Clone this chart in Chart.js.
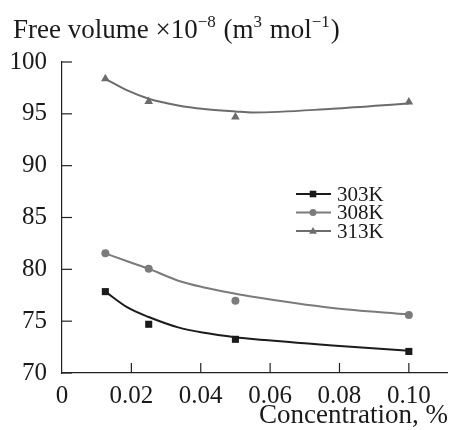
<!DOCTYPE html>
<html lang="en">
<head>
<meta charset="UTF-8">
<script src="https://cdn.jsdelivr.net/npm/chart.js@4.4.0/dist/chart.umd.min.js"></script>
<title>Free volume</title>
<style>
  html, body { margin: 0; padding: 0; background: #fff; }
  #wrap { width: 452px; height: 430px; }
</style>
</head>
<body>
<div id="wrap"><canvas id="chart"></canvas></div>
<script>
// measured points
var concentration = [0.0125, 0.025, 0.05, 0.1];
var fv303 = [77.85, 74.7, 73.25, 72.08];
var fv308 = [81.54, 80.06, 76.97, 75.6];
var fv313 = [98.38, 96.19, 94.7, 96.13];

// trend curves
var fitX = [0.0125, 0.019, 0.025, 0.0335, 0.041, 0.05, 0.055, 0.078, 0.1];
var fit303 = [77.85, 76.3, 75.4, 74.4, 73.88, 73.45, 73.28, 72.66, 72.15];
var fit308 = [81.54, 80.75, 80.06, 78.9, 78.25, 77.65, 77.35, 76.27, 75.65];
var fit313 = [98.38, 97.23, 96.45, 95.8, 95.46, 95.23, 95.13, 95.49, 96.0];

var series = ['303K', '308K', '313K'];
var xTickValues = [0, 0.02, 0.04, 0.06, 0.08, 0.10];
var yTickValues = [70, 75, 80, 85, 90, 95, 100];

var colors = ['#1b1b1b', '#7b7b7b', '#6c6c6c'];
var markers = ['rect', 'circle', 'triangle'];
var FONT = '"Liberation Serif", "Times New Roman", serif';

function pts(xs, ys) {
    return xs.map(function (x, i) { return { x: x, y: ys[i] }; });
}

var fits = [fit303, fit308, fit313];
var meas = [fv303, fv308, fv313];
var datasets = [];
fits.forEach(function (f, i) {
    datasets.push({
        label: series[i] + ' fit',
        data: pts(fitX, f),
        showLine: true,
        borderColor: colors[i],
        borderWidth: 2,
        pointRadius: 0,
        tension: 0.4,
        cubicInterpolationMode: 'monotone'
    });
});
meas.forEach(function (m, i) {
    datasets.push({
        label: series[i],
        data: pts(concentration, m),
        showLine: false,
        pointStyle: markers[i],
        pointRadius: i == 1 ? 4 : 5,
        backgroundColor: colors[i],
        borderColor: colors[i],
        borderWidth: 0
    });
});

function marker(ctx, style, x, y, r) {
    ctx.beginPath();
    if (style == 'rect') {
        ctx.rect(x - r, y - r, 2 * r, 2 * r);
    } else if (style == 'circle') {
        ctx.arc(x, y, r, 0, Math.PI * 2);
    } else {
        ctx.moveTo(x, y - r * 1.2);
        ctx.lineTo(x + r * 1.2, y + r * 0.8);
        ctx.lineTo(x - r * 1.2, y + r * 0.8);
        ctx.closePath();
    }
    ctx.fill();
}

var decor = {
    id: 'decor',
    afterDraw: function (chart) {
        var ctx = chart.ctx;
        var xs = chart.scales.x, ys = chart.scales.y;
        var a = chart.chartArea;
        ctx.save();
        ctx.strokeStyle = '#222';
        ctx.lineWidth = 1.2;
        // inward ticks
        yTickValues.forEach(function (v) {
            var y = ys.getPixelForValue(v);
            ctx.beginPath(); ctx.moveTo(a.left, y); ctx.lineTo(a.left + 10, y); ctx.stroke();
        });
        xTickValues.forEach(function (v) {
            if (v == 0) return;
            var x = xs.getPixelForValue(v);
            ctx.beginPath(); ctx.moveTo(x, a.bottom); ctx.lineTo(x, a.bottom - 10); ctx.stroke();
        });

        // y title with superscripts
        ctx.fillStyle = '#1a1a1a';
        ctx.textBaseline = 'alphabetic';
        ctx.textAlign = 'left';
        var big = '27px ' + FONT, small = '17px ' + FONT;
        var parts = [['Free volume \u00d710', 0], ['\u22128', 1], [' (m', 0], ['3', 1], [' mol', 0], ['\u22121', 1], [')', 0]];
        var x = 13, base = 38;
        parts.forEach(function (p) {
            ctx.font = p[1] ? small : big;
            ctx.fillText(p[0], x, p[1] ? base - 11 : base);
            x += ctx.measureText(p[0]).width + (p[1] ? 1 : 0);
        });

        // x title
        ctx.font = '27px ' + FONT;
        ctx.textAlign = 'right';
        ctx.fillText('Concentration, %', 448, 423);

        // legend
        ctx.font = '21px ' + FONT;
        ctx.textAlign = 'left';
        ctx.textBaseline = 'middle';
        var ly = [194, 212.5, 231];
        series.forEach(function (s, i) {
            ctx.strokeStyle = colors[i];
            ctx.fillStyle = colors[i];
            ctx.lineWidth = 2;
            ctx.beginPath(); ctx.moveTo(296, ly[i]); ctx.lineTo(331, ly[i]); ctx.stroke();
            marker(ctx, markers[i], 313, ly[i], i == 1 ? 3.5 : 3.3);
            ctx.fillStyle = '#1a1a1a';
            ctx.fillText(s, 337, ly[i] + 1);
        });
        ctx.restore();
    }
};

new Chart(document.getElementById('chart'), {
    type: 'scatter',
    data: { datasets: datasets },
    options: {
        responsive: true,
        maintainAspectRatio: false,
        animation: false,
        layout: { padding: { top: 62, right: 4, left: 0, bottom: 0 } },
        plugins: { legend: { display: false }, tooltip: { enabled: false } },
        scales: {
            x: {
                type: 'linear',
                min: 0, max: 0.111,
                grid: { display: false },
                border: { display: true, color: '#222', width: 1.2 },
                ticks: {
                    stepSize: 0.02,
                    includeBounds: false,
                    padding: 0,
                    color: '#1a1a1a',
                    font: { family: FONT, size: 25 },
                    callback: function (v) { return v == 0 ? '0' : v.toFixed(2); }
                },
                afterFit: function (s) { s.height = 57; }
            },
            y: {
                min: 70, max: 100,
                grid: { display: false },
                border: { display: true, color: '#222', width: 1.2 },
                ticks: {
                    stepSize: 5,
                    padding: 7,
                    color: '#1a1a1a',
                    font: { family: FONT, size: 25 }
                },
                afterFit: function (s) { s.width = 62; }
            }
        }
    },
    plugins: [decor]
});
</script>
</body>
</html>
